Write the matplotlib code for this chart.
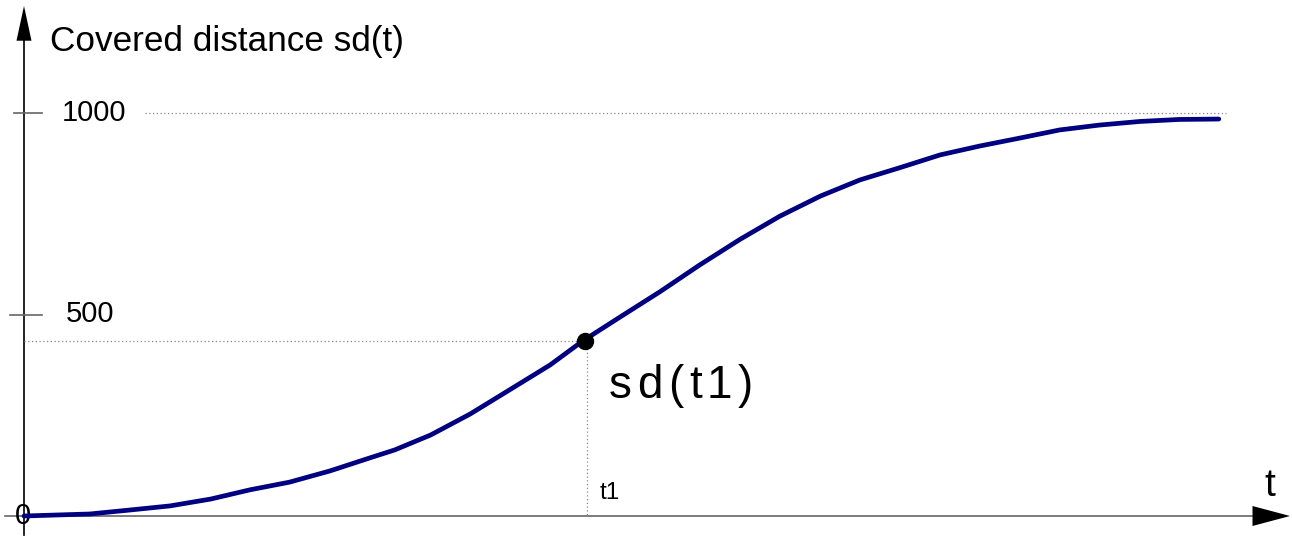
import matplotlib
matplotlib.use("Agg")
import matplotlib.pyplot as plt
from matplotlib.patches import ArrowStyle

plt.rcParams['font.family'] = ['Liberation Sans', 'DejaVu Sans']

# ---- data ----
t = [0, 5.5, 8.9, 12.2, 15.6, 18.9, 22.2, 25.6, 28.9, 31.0, 34.0, 37.3, 40.6,
     44.0, 46.7, 49.8, 53.2, 56.5, 59.9, 63.2, 66.6, 69.9, 73.2, 76.6, 79.9,
     83.3, 86.6, 89.9, 93.3, 96.6, 99.9]
sd = [0, 5, 15, 25, 42, 65, 84, 112, 144, 164, 201, 253, 313,
      375, 434, 493, 557, 623, 687, 744, 794, 834, 864, 896, 918,
      938, 958, 970, 979, 984, 985]
t1 = 46.9
sd_t1 = 434
ytick_vals = [500, 1000]
ytick_labels = ["500", "1000"]
zero_label = "0"
ylabel = "Covered distance sd(t)"
xlabel = "t"
point_label = "sd(t1)"
t1_label = "t1"

W, H = 1292, 536
fig = plt.figure(figsize=(W / 100, H / 100), dpi=100)
ax = fig.add_axes([0, 0, 1, 1])
px_t = 11.96      # pixels per t unit
px_v = 0.403      # pixels per sd unit
x0, y0 = 24, 516  # origin in pixels
ax.set_xlim(-x0 / px_t, (W - x0) / px_t)
ax.set_ylim(-(H - y0) / px_v, y0 / px_v)
ax.axis('off')

def tx(p):  # pixel x -> t
    return (p - x0) / px_t

def vy(p):  # pixel y -> value
    return (y0 - p) / px_v

# axes lines
ax.plot([tx(5), tx(1255)], [0, 0], color='#666666', lw=1.2, zorder=2)
ax.plot([0, 0], [vy(535), vy(40)], color='black', lw=1.2, zorder=2)
ax.annotate('', xy=(0, vy(6)), xytext=(0, vy(42)),
            arrowprops=dict(arrowstyle=ArrowStyle('-|>', head_length=25, head_width=5.4),
                            color='black', lw=0, shrinkA=0, shrinkB=0, mutation_scale=1))
ax.annotate('', xy=(tx(1290), 0), xytext=(tx(1252), 0),
            arrowprops=dict(arrowstyle=ArrowStyle('-|>', head_length=27, head_width=7.2),
                            color='black', lw=0, shrinkA=0, shrinkB=0, mutation_scale=1))

# ticks
tick_start = {500: tx(10), 1000: tx(14)}
for v, lab in zip(ytick_vals, ytick_labels):
    ax.plot([tick_start[v], tx(42)], [v, v], color='#666666', lw=1.2)
    ax.text(tx(62) if v == 1000 else tx(66), v, lab, fontsize=21,
            ha='left', va='center')
ax.text(tx(23), 0, zero_label, fontsize=21, ha='center', va='center')

# dotted guide lines
ax.plot([tx(145), tx(1226)], [1000, 1000], color='#888888', lw=0.9, ls=(0, (1, 2)))
ax.plot([0, t1], [sd_t1, sd_t1], color='#888888', lw=0.9, ls=(0, (1, 2)))
ax.plot([t1 + 0.2, t1 + 0.2], [sd_t1, 0], color='#888888', lw=0.9, ls=(0, (1, 2)))

# curve and point
ax.plot(t, sd, color='#000080', lw=3.4, solid_capstyle='round', zorder=3)
ax.plot([t1], [sd_t1], 'o', color='black', ms=11.5, zorder=4)

# labels
ax.text(tx(50), vy(42), ylabel, fontsize=25.3, ha='left', va='center')
ax.text(tx(1270), vy(486), xlabel, fontsize=28, ha='center', va='center')
ax.text(tx(600), vy(493), t1_label, fontsize=17.5, ha='left', va='center')

# letter-spaced point label
fig.canvas.draw()
r = fig.canvas.get_renderer()
xpix = 609
for ch in point_label:
    txt = ax.text(tx(xpix), vy(386), ch, fontsize=33, ha='left', va='center')
    bb = txt.get_window_extent(renderer=r)
    xpix += bb.width + 5.4

fig.savefig("out.png", dpi=100)
